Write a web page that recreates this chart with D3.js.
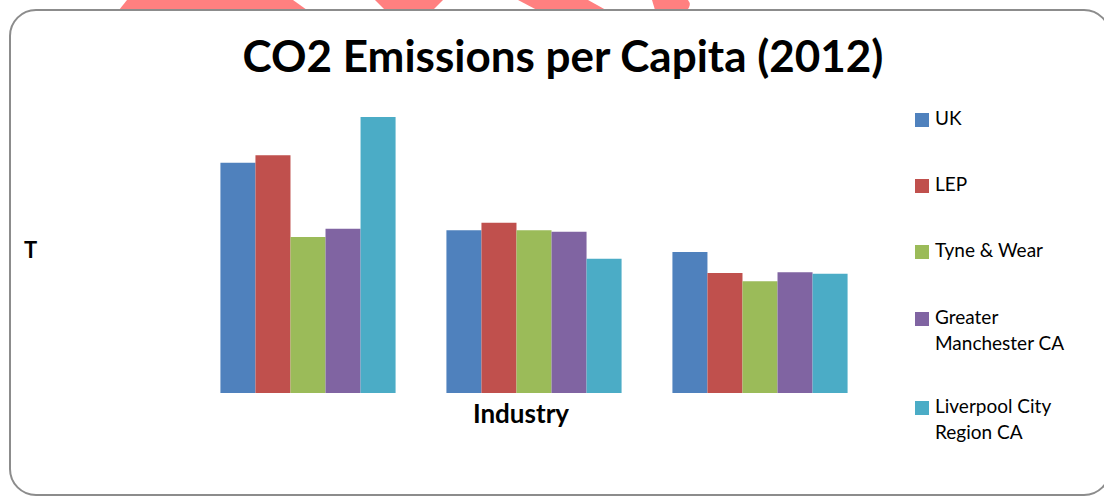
<!DOCTYPE html>
<html>
<head>
<meta charset="utf-8">
<script src="https://cdn.jsdelivr.net/npm/d3@7"></script>
<style>
  html, body { margin: 0; padding: 0; background: #fff; }
  svg { display: block; }
</style>
</head>
<body>
<svg id="chart" width="1104" height="499"></svg>
<script>
// ---- data ----
const categories = ["Group 1", "Industry", "Group 3"];
const seriesNames = ["UK", "LEP", "Tyne & Wear", "Greater Manchester CA", "Liverpool City Region CA"];
const seriesColors = ["#4F81BD", "#C0504D", "#9BBB59", "#8064A2", "#4BACC6"];
const ukValues   = [3.07, 2.17, 1.88];
const lepValues  = [3.17, 2.27, 1.60];
const twValues   = [2.08, 2.17, 1.49];
const gmValues   = [2.19, 2.15, 1.61];
const lcrValues  = [3.68, 1.79, 1.59];
const titleText = "CO2 Emissions per Capita (2012)";
const yTitle = "T";
const xTitle = "Industry";

const seriesValues = [ukValues, lepValues, twValues, gmValues, lcrValues];

const svg = d3.select("#chart");
const font = "Lato, 'Open Sans', sans-serif";

// decorative shapes behind the frame (top edge)
const deco = svg.append("g").attr("fill", "#FF8080");
deco.append("path").attr("d", "M127,0 L293,0 L307,10 L119,10 Z");
deco.append("path").attr("d", "M375,0 L443,0 L433,10 L385,10 Z");
deco.append("path").attr("d", "M518,0 L588,0 L606,10 L537,10 Z");
deco.append("path").attr("d", "M652,0 L688,0 Q692,5 687,10 L655,10 Z");

// frame
svg.append("rect")
  .attr("x", 10).attr("y", 10)
  .attr("width", 1100).attr("height", 485)
  .attr("rx", 26).attr("ry", 26)
  .attr("fill", "#fff")
  .attr("stroke", "#8c8c8c").attr("stroke-width", 2);

// scales
const x0 = d3.scaleBand().domain(categories).range([195, 873])
  .paddingInner(0.225).paddingOuter(0.1125);
const x1 = d3.scaleBand().domain(seriesNames).range([0, x0.bandwidth()]);
const y = d3.scaleLinear().domain([0, 4]).range([393, 93]);
const color = d3.scaleOrdinal().domain(seriesNames).range(seriesColors);

// bars
const groups = svg.append("g").selectAll("g")
  .data(categories)
  .join("g")
  .attr("transform", d => `translate(${x0(d)},0)`);

groups.selectAll("rect")
  .data((c, ci) => seriesNames.map((s, si) => ({ s, v: seriesValues[si][ci] })))
  .join("rect")
  .attr("x", d => x1(d.s))
  .attr("width", x1.bandwidth())
  .attr("y", d => y(d.v))
  .attr("height", d => y(0) - y(d.v))
  .attr("fill", d => color(d.s));

// title
svg.append("text")
  .attr("x", 563).attr("y", 72)
  .attr("text-anchor", "middle")
  .attr("font-family", font).attr("font-weight", "bold")
  .attr("font-size", 44)
  .attr("fill", "#000")
  .text(titleText);

// y title
svg.append("text")
  .attr("x", 24).attr("y", 258)
  .attr("font-family", font).attr("font-weight", "bold")
  .attr("font-size", 22)
  .attr("fill", "#000")
  .text(yTitle);

// x title
svg.append("text")
  .attr("x", 521).attr("y", 423)
  .attr("text-anchor", "middle")
  .attr("font-family", font).attr("font-weight", "bold")
  .attr("font-size", 26)
  .attr("fill", "#000")
  .text(xTitle);

// legend
const legendLines = [["UK"], ["LEP"], ["Tyne & Wear"], ["Greater", "Manchester CA"], ["Liverpool City", "Region CA"]];
const legendSquareY = [113, 179, 245, 312, 401];
const legend = svg.append("g");
seriesNames.forEach((s, i) => {
  const g = legend.append("g");
  g.append("rect")
    .attr("x", 915).attr("y", legendSquareY[i])
    .attr("width", 14).attr("height", 14)
    .attr("fill", color(s));
  legendLines[i].forEach((line, j) => {
    g.append("text")
      .attr("x", 935).attr("y", legendSquareY[i] + 12 + j * 26)
      .attr("font-family", font).attr("font-size", 19)
      .attr("fill", "#000")
      .text(line);
  });
});
</script>
</body>
</html>
